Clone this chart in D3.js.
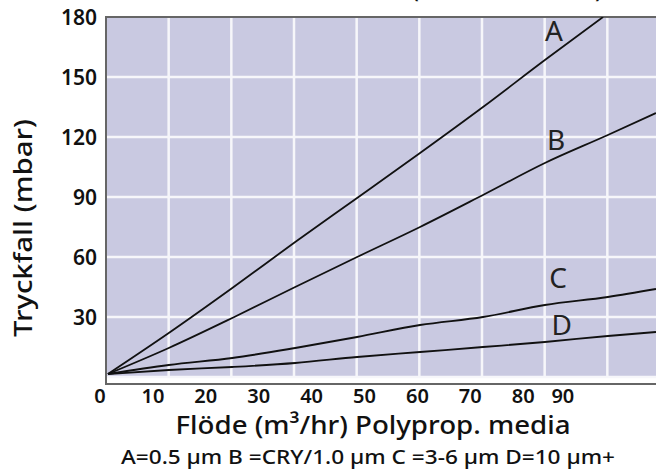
<!DOCTYPE html>
<html>
<head>
<meta charset="utf-8">
<script src="https://cdn.jsdelivr.net/npm/d3@7"></script>
<style>
  body { margin: 0; background: #fff; }
  svg { display: block; }
  text { font-family: "Noto Sans", "Open Sans", sans-serif; }
</style>
</head>
<body>
<div id="chart"></div>
<script>
// flow readings (m3/hr) and pressure drop (mbar) per curve
const flowA = [1.5, 13, 25, 36.9, 48.6, 60.5, 72.4, 84.1, 95.1]
const dropA = [1.5, 22, 44.5, 67.5, 89.5, 112, 135, 158.5, 180]
const flow = [1.5, 13, 25, 36.9, 48.6, 60.5, 72.4, 84.1, 96, 105.1]
const dropB = [1.5, 14.5, 29.5, 45, 60, 75, 91, 107, 121, 132]
const dropC = [1.5, 6, 9.5, 14.5, 20, 26, 30, 36, 40, 44]
const dropD = [1.5, 3.5, 5, 7, 10, 12.5, 15, 17.5, 20.5, 22.5]

const curveNames = ["A", "B", "C", "D"]
const labelFlow = [85.8, 86.2, 86.6, 87.3]
const labelDrop = [168, 113.5, 44.5, 21]

const xTickLabels = ["0", "10", "20", "30", "40", "50", "60", "70", "80", "90"]
const xTickPos = [0, 10, 20, 30, 40, 50, 60, 70, 80, 87.5]
const yTicks = [30, 60, 90, 120, 150, 180]
const yGrid = [0, 30, 60, 90, 120, 150]

const width = 656
const height = 469

const svg = d3.select("#chart").append("svg")
  .attr("width", width)
  .attr("height", height)

const x = d3.scaleLinear().domain([0, 100]).range([100, 629])
const y = d3.scaleLinear().domain([0, 180]).range([377, 17])

// plot frame
const plotLeft = 106, plotRight = 670, plotTop = 17, plotBottom = 384
const gridX = d3.scaleLinear().domain([0, 9]).range([plotLeft, plotRight])

svg.append("rect")
  .attr("x", plotLeft).attr("y", plotTop)
  .attr("width", plotRight - plotLeft).attr("height", y(0) - plotTop + 1)
  .attr("fill", "#c9c9e1")

svg.append("defs").append("clipPath").attr("id", "plotclip")
  .append("rect")
  .attr("x", plotLeft).attr("y", plotTop)
  .attr("width", plotRight - plotLeft).attr("height", plotBottom - plotTop)

// grid
svg.selectAll(".vgrid").data(d3.range(1, 9)).enter().append("line")
  .attr("x1", d => gridX(d)).attr("x2", d => gridX(d))
  .attr("y1", plotTop).attr("y2", y(0))
  .attr("stroke", "#f6f6fa").attr("stroke-width", 2.5)

svg.selectAll(".hgrid").data(yGrid).enter().append("line")
  .attr("x1", plotLeft).attr("x2", plotRight)
  .attr("y1", d => y(d)).attr("y2", d => y(d))
  .attr("stroke", "#f6f6fa").attr("stroke-width", 2.5)

// border
svg.append("path")
  .attr("d", `M${plotRight},${plotTop}H${plotLeft}V${plotBottom}H${plotRight}`)
  .attr("fill", "none")
  .attr("stroke", "#666")
  .attr("stroke-width", 2)

// curves
const series = [
  { xs: flowA, ys: dropA },
  { xs: flow, ys: dropB },
  { xs: flow, ys: dropC },
  { xs: flow, ys: dropD },
]

const line = d3.line()
  .x(d => x(d[0]))
  .y(d => y(d[1]))
  .curve(d3.curveMonotoneX)

svg.append("g").attr("clip-path", "url(#plotclip)")
  .selectAll("path").data(series).enter().append("path")
  .attr("d", s => line(s.xs.map((v, i) => [v, s.ys[i]])))
  .attr("fill", "none")
  .attr("stroke", "#111")
  .attr("stroke-width", 1.8)

// curve letters
svg.selectAll(".clabel").data(curveNames).enter().append("text")
  .attr("x", (d, i) => x(labelFlow[i]))
  .attr("y", (d, i) => y(labelDrop[i]))
  .attr("text-anchor", "middle")
  .attr("font-size", 28)
  .attr("fill", "#222")
  .text(d => d)

// y tick labels
svg.selectAll(".ytick").data(yTicks).enter().append("text")
  .attr("x", 97)
  .attr("y", d => y(d))
  .attr("dy", "0.36em")
  .attr("text-anchor", "end")
  .attr("font-size", 21)
  .attr("font-weight", 600)
  .attr("fill", "#111")
  .text(d => d)

// x tick labels
svg.selectAll(".xtick").data(xTickLabels).enter().append("text")
  .attr("x", (d, i) => x(xTickPos[i]))
  .attr("y", 403)
  .attr("text-anchor", "middle")
  .attr("font-size", 20)
  .attr("font-weight", 600)
  .attr("fill", "#111")
  .text(d => d)

// axis titles
svg.append("text")
  .attr("x", 373).attr("y", 434)
  .attr("text-anchor", "middle")
  .attr("font-size", 26)
  .attr("font-weight", 500)
  .attr("fill", "#111")
  .attr("textLength", 395)
  .attr("lengthAdjust", "spacingAndGlyphs")
  .text("Flöde (m³/hr) Polyprop. media")

svg.append("text")
  .attr("x", 368).attr("y", 464)
  .attr("text-anchor", "middle")
  .attr("font-size", 20)
  .attr("font-weight", 500)
  .attr("fill", "#111")
  .attr("textLength", 494)
  .attr("lengthAdjust", "spacingAndGlyphs")
  .text("A=0.5 µm B =CRY/1.0 µm C =3-6 µm D=10 µm+")

svg.append("text")
  .attr("transform", "translate(32,228) rotate(-90)")
  .attr("text-anchor", "middle")
  .attr("font-size", 25)
  .attr("font-weight", 500)
  .attr("fill", "#111")
  .attr("textLength", 218)
  .attr("lengthAdjust", "spacingAndGlyphs")
  .text("Tryckfall (mbar)")

// title, cut off by the top of the picture: only the bracket tails show
svg.append("text")
  .attr("x", 406).attr("y", -3)
  .attr("text-anchor", "end")
  .attr("font-size", 28)
  .attr("font-weight", 600)
  .attr("fill", "#111")
  .text("Flödeskurva")

svg.append("text")
  .attr("x", 412).attr("y", -3)
  .attr("font-size", 28)
  .attr("font-weight", 600)
  .attr("fill", "#111")
  .attr("textLength", 190)
  .attr("lengthAdjust", "spacingAndGlyphs")
  .text("(Standardelement)")
</script>
</body>
</html>
